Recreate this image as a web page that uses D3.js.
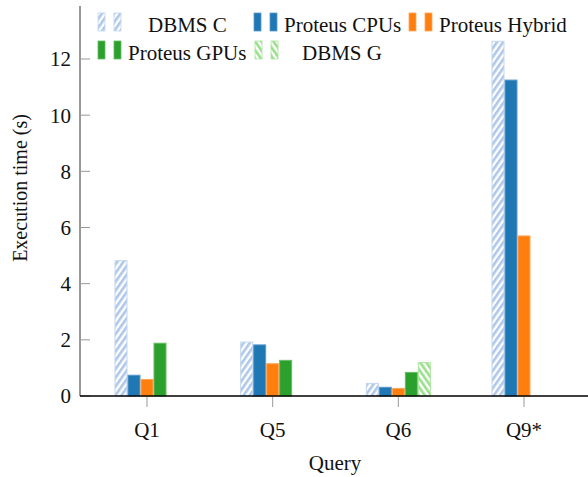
<!DOCTYPE html>
<html>
<head>
<meta charset="utf-8">
<script src="https://cdn.jsdelivr.net/npm/d3@7"></script>
<style>
  body { margin: 0; background: #fff; }
</style>
</head>
<body>
<div id="chart"></div>
<script>
// data
const queries = ["Q1", "Q5", "Q6", "Q9*"];
const series = ["DBMS C", "Proteus CPUs", "Proteus Hybrid", "Proteus GPUs", "DBMS G"];
const dbmsC = [4.82, 1.92, 0.45, 12.63];
const proteusCPUs = [0.74, 1.82, 0.31, 11.25];
const proteusHybrid = [0.59, 1.15, 0.27, 5.7];
const proteusGPUs = [1.88, 1.27, 0.84, null];
const dbmsG = [null, null, 1.19, null];
const yTicks = [0, 2, 4, 6, 8, 10, 12];

const values = [dbmsC, proteusCPUs, proteusHybrid, proteusGPUs, dbmsG];

const W = 588, H = 477;
const x0 = 80, yBase = 396, yTop = 6;

const svg = d3.select("#chart")
  .append("svg")
    .attr("width", W)
    .attr("height", H)
    .attr("font-family", "'Liberation Serif', 'Times New Roman', serif")
    .attr("fill", "#111");

// hatching patterns
const defs = svg.append("defs");
function hatch(id, color, angle) {
  const p = defs.append("pattern")
      .attr("id", id)
      .attr("patternUnits", "userSpaceOnUse")
      .attr("width", 5)
      .attr("height", 5)
      .attr("patternTransform", `rotate(${angle})`);
  p.append("rect").attr("width", 5).attr("height", 5).attr("fill", "#fff");
  p.append("rect").attr("width", 2.6).attr("height", 5).attr("fill", color);
}
hatch("hatchC", "#aec7e8", 35);
hatch("hatchG", "#98df8a", -35);

const fills = ["url(#hatchC)", "#1f77b4", "#ff7f0e", "#2ca02c", "url(#hatchG)"];
const strokes = ["#c3d6ef", "#5c9acb", "#ffa65a", "#66bc66", "#a9e59d"];

let x = d3.scalePoint()
    .domain(queries)
    .range([147, 524]);

let x1 = d3.scaleBand()
    .domain(series)
    .range([-32.5, 32.5]);

let y = d3.scaleLinear()
    .domain([0, 12])
    .range([yBase, 59]);

// bars
const bars = [];
series.forEach((s, i) => {
  queries.forEach((q, j) => {
    if (values[i][j] != null) bars.push({s, i, q, v: values[i][j]});
  });
});

svg.append("g")
  .selectAll("rect")
  .data(bars)
  .join("rect")
    .attr("x", d => x(d.q) + x1(d.s) + 0.5)
    .attr("y", d => y(d.v))
    .attr("width", x1.bandwidth() - 1)
    .attr("height", d => y(0) - y(d.v))
    .attr("fill", d => fills[d.i])
    .attr("stroke", d => strokes[d.i])
    .attr("stroke-width", 1);

// y axis
const yAxis = svg.append("g")
    .attr("transform", `translate(${x0},0)`);
yAxis.append("line")
    .attr("y1", yTop).attr("y2", yBase)
    .attr("stroke", "#333").attr("stroke-width", 1);
yAxis.selectAll("line.tick")
  .data(yTicks)
  .join("line")
    .attr("class", "tick")
    .attr("x1", 0).attr("x2", 10)
    .attr("y1", d => y(d)).attr("y2", d => y(d))
    .attr("stroke", "#999");
yAxis.selectAll("text")
  .data(yTicks)
  .join("text")
    .attr("x", -9)
    .attr("y", d => y(d))
    .attr("dy", "0.35em")
    .attr("text-anchor", "end")
    .attr("font-size", 21)
    .text(d => d);

// x axis
const xAxis = svg.append("g")
    .attr("transform", `translate(0,${yBase})`);
xAxis.append("line")
    .attr("x1", x0).attr("x2", W)
    .attr("stroke", "#000").attr("stroke-width", 1.5);
xAxis.selectAll("line.tick")
  .data(queries)
  .join("line")
    .attr("class", "tick")
    .attr("x1", d => x(d)).attr("x2", d => x(d))
    .attr("y1", 1).attr("y2", 11)
    .attr("stroke", "#999");
xAxis.selectAll("text")
  .data(queries)
  .join("text")
    .attr("x", d => x(d))
    .attr("y", 41)
    .attr("text-anchor", "middle")
    .attr("font-size", 21)
    .text(d => d);

// axis titles
svg.append("text")
    .attr("x", 335)
    .attr("y", 470)
    .attr("text-anchor", "middle")
    .attr("font-size", 21)
    .text("Query");

svg.append("text")
    .attr("transform", "translate(27,188) rotate(-90)")
    .attr("text-anchor", "middle")
    .attr("font-size", 20)
    .text("Execution time (s)");

// legend
const legendPos = [
  {ix: 98, tx: 148, row: 0},
  {ix: 254, tx: 284, row: 0},
  {ix: 409, tx: 439, row: 0},
  {ix: 98, tx: 128, row: 1},
  {ix: 255, tx: 302, row: 1}
];

const lg = svg.append("g")
  .selectAll("g")
  .data(series)
  .join("g")
    .attr("transform", (d, i) => `translate(0,${legendPos[i].row * 28})`);

[0, 16].forEach(off => {
  lg.append("rect")
      .attr("x", (d, i) => legendPos[i].ix + off)
      .attr("y", 13)
      .attr("width", 7)
      .attr("height", 18)
      .attr("fill", (d, i) => fills[i])
      .attr("stroke", (d, i) => strokes[i])
      .attr("stroke-width", 0.8);
});

lg.append("text")
    .attr("x", (d, i) => legendPos[i].tx)
    .attr("y", 32)
    .attr("font-size", 21)
    .text(d => d);
</script>
</body>
</html>
